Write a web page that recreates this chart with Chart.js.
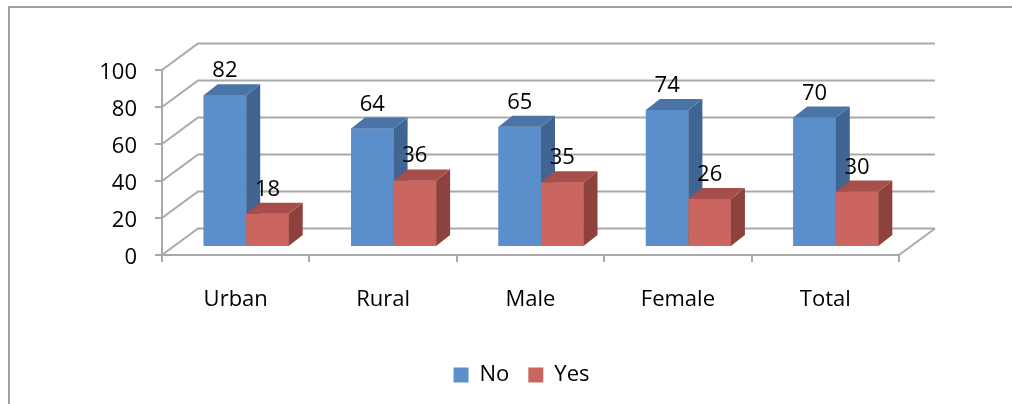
<!DOCTYPE html>
<html lang="en">
<head>
<meta charset="UTF-8">
<title>Chart</title>
<script src="https://cdn.jsdelivr.net/npm/chart.js"></script>
<style>
    html, body { margin: 0; padding: 0; background: #fff; }
    #wrap { width: 1012px; height: 404px; }
</style>
</head>
<body>
<div id="wrap"><canvas id="grafico" width="1012" height="404"></canvas></div>
<script>
    // dados
    const categorias = ['Urban', 'Rural', 'Male', 'Female', 'Total'];
    const valoresNo = [82, 64, 65, 74, 70];
    const valoresYes = [18, 36, 35, 26, 30];

    const fonte = "'Open Sans', 'Noto Sans', sans-serif";
    const corGrade = '#a9a9a9';

    // deslocamento 3D
    const fundo = { dx: 36, dy: -26.5 };   // parede do fundo
    const meio = { dx: 10.5, dy: -8 };     // plano das barras
    const prof = { dx: 14, dy: -11 };      // profundidade da barra

    const cores = [
        { frente: '#5b8fcb', lado: '#406592', topo: '#4b74a6' },
        { frente: '#cb655f', lado: '#8e423e', topo: '#a64f4a' }
    ];

    const padBaixo = 0;

    function desenhaBarra3d(ctx, bar, c) {
        const p = bar.getProps(['x', 'y', 'base', 'width'], true);
        const l = p.x - p.width / 2, r = p.x + p.width / 2;
        ctx.fillStyle = c.frente;
        ctx.fillRect(l, p.y, p.width, p.base - p.y);
        ctx.fillStyle = c.lado;
        ctx.beginPath();
        ctx.moveTo(r, p.y);
        ctx.lineTo(r + prof.dx, p.y + prof.dy);
        ctx.lineTo(r + prof.dx, p.base + prof.dy);
        ctx.lineTo(r, p.base);
        ctx.closePath();
        ctx.fill();
        ctx.fillStyle = c.topo;
        ctx.beginPath();
        ctx.moveTo(l, p.y);
        ctx.lineTo(l + prof.dx, p.y + prof.dy);
        ctx.lineTo(r + prof.dx, p.y + prof.dy);
        ctx.lineTo(r, p.y);
        ctx.closePath();
        ctx.fill();
    }

    const plugin3d = {
        id: 'plugin3d',
        afterLayout(chart) {
            // legenda centrada como no original
            const lg = chart.legend;
            lg.left += 72; lg.right += 72;
            lg.top -= 8; lg.bottom -= 8;
        },
        beforeDraw(chart) {
            const ctx = chart.ctx;
            // moldura
            ctx.save();
            ctx.strokeStyle = '#a0a0a0';
            ctx.lineWidth = 2;
            ctx.beginPath();
            ctx.moveTo(9, 404);
            ctx.lineTo(9, 7);
            ctx.lineTo(1012, 7);
            ctx.stroke();
            ctx.restore();
        },
        beforeDatasetsDraw(chart) {
            const ctx = chart.ctx;
            const y = chart.scales.y;
            const x = chart.scales.x;
            const esq = x.left, dir = x.right;
            ctx.save();
            ctx.strokeStyle = corGrade;
            ctx.lineWidth = 2;
            y.ticks.forEach(function (t) {
                const py = y.getPixelForValue(t.value);
                ctx.beginPath();
                ctx.moveTo(esq, py);
                ctx.lineTo(esq + fundo.dx, py + fundo.dy);
                ctx.lineTo(dir + fundo.dx, py + fundo.dy);
                ctx.stroke();
            });
            // chão, lado direito
            const p0 = y.getPixelForValue(0);
            ctx.beginPath();
            ctx.moveTo(dir, p0);
            ctx.lineTo(dir + fundo.dx, p0 + fundo.dy);
            ctx.stroke();
            ctx.restore();

            ctx.save();
            ctx.translate(meio.dx, meio.dy);
        },
        afterDatasetsDraw(chart) {
            const ctx = chart.ctx;
            // redesenha na ordem certa: No e depois Yes, por categoria
            const n = chart.data.labels.length;
            for (let j = 0; j < n; j++) {
                chart.data.datasets.forEach(function (ds, i) {
                    desenhaBarra3d(ctx, chart.getDatasetMeta(i).data[j], cores[i]);
                });
            }
            ctx.fillStyle = '#000';
            ctx.font = '22px ' + fonte;
            ctx.textAlign = 'center';
            ctx.textBaseline = 'alphabetic';
            chart.data.datasets.forEach(function (ds, i) {
                chart.getDatasetMeta(i).data.forEach(function (bar, j) {
                    ctx.fillText(ds.data[j], bar.x, bar.y - 18);
                });
            });
            ctx.restore();
        }
    };

    new Chart(document.getElementById('grafico'), {
        type: 'bar',
        data: {
            labels: categorias,
            datasets: [
                { label: 'No', data: valoresNo, backgroundColor: cores[0].frente, borderWidth: 0 },
                { label: 'Yes', data: valoresYes, backgroundColor: cores[1].frente, borderWidth: 0 }
            ]
        },
        options: {
            responsive: false,
            animation: false,
            categoryPercentage: 0.577,
            barPercentage: 1,
            layout: { padding: { left: 0, top: 70, right: 113, bottom: padBaixo } },
            plugins: {
                tooltip: { enabled: false },
                legend: {
                    position: 'bottom',
                    labels: {
                        font: { family: fonte, size: 22 },
                        color: '#000',
                        boxWidth: 15,
                        boxHeight: 15,
                        padding: 19
                    }
                }
            },
            scales: {
                x: {
                    grid: { drawOnChartArea: false, tickLength: 7, color: corGrade, lineWidth: 2 },
                    border: { display: true, color: corGrade, width: 2 },
                    ticks: { font: { family: fonte, size: 22 }, color: '#000', padding: 25 },
                    afterFit(s) { s.height = 404 - padBaixo - s.chart.legend.height - 255; }
                },
                y: {
                    min: 0,
                    max: 100,
                    ticks: { stepSize: 20, font: { family: fonte, size: 22 }, color: '#000', padding: 18, labelOffset: 3 },
                    grid: { drawOnChartArea: false, tickLength: 7, color: corGrade, lineWidth: 2 },
                    border: { display: true, color: corGrade, width: 2 },
                    afterFit(s) { s.width = 162; }
                }
            }
        },
        plugins: [plugin3d]
    });
</script>
</body>
</html>
